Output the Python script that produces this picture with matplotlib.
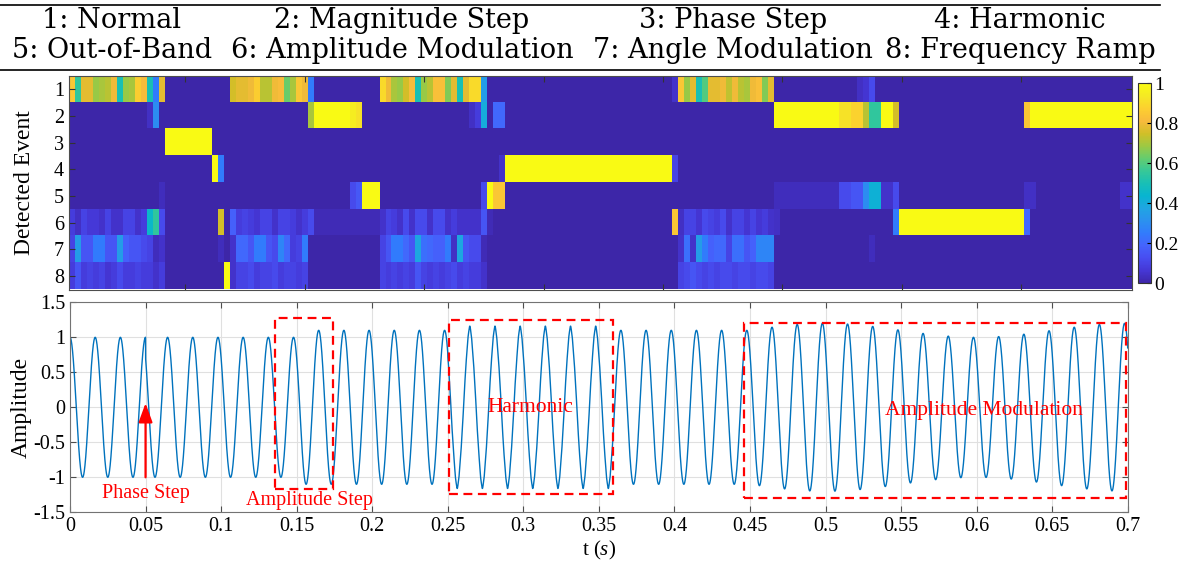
import numpy as np
import matplotlib.pyplot as plt
from matplotlib.colors import LinearSegmentedColormap
from matplotlib.patches import Rectangle
from matplotlib.lines import Line2D

plt.rcParams['font.family'] = 'Liberation Serif'
plt.rcParams['mathtext.fontset'] = 'custom'
plt.rcParams['mathtext.rm'] = 'Liberation Serif'
plt.rcParams['mathtext.it'] = 'Liberation Serif:italic'

# ---- event classes ----
event_labels = ['1: Normal', '2: Magnitude Step', '3: Phase Step', '4: Harmonic',
                '5: Out-of-Band', '6: Amplitude Modulation', '7: Angle Modulation',
                '8: Frequency Ramp']

# ---- classifier scores per window, stored as {first window: [scores]} ----
n_windows = 178
score_normal = {
    0: [0.85, 0.55, 0.78, 0.78, 0.68, 0.70, 0.72, 0.80, 0.50, 0.68, 0.70, 0.87, 0.82, 0.50, 0.25, 0.78],
    27: [0.75, 0.78, 0.78, 0.80, 0.87, 0.72, 0.72, 0.80, 0.82, 0.63, 0.70, 0.85, 0.80, 0.25],
    52: [0.90, 0.80, 0.70, 0.68, 0.75, 0.82, 0.50, 0.68, 0.72, 0.83, 0.83, 0.66, 0.78, 0.50, 0.78,
         0.90, 0.90, 0.35],
    101: [0.05, 0.85, 0.68, 0.78, 0.50, 0.60, 0.78, 0.78, 0.80, 0.73, 0.80, 0.72, 0.70, 0.80, 0.83,
          0.66, 0.78],
    132: [0.04, 0.06, 0.12],
}
score_mag_step = {
    13: [0.04, 0.30],
    40: [0.70, 1, 1, 1, 1, 1, 1, 0.95, 0.92],
    67: [0.04, 0.08, 0.40, 0.0, 0.20, 0.20],
    118: [1, 1, 1, 1, 1, 1, 1, 1, 1, 1, 1, 0.92, 0.92, 0.88, 0.88, 0.72, 0.55, 0.55, 1, 1, 0.75],
    160: [0.85] + [1] * 17,
}
score_phase_step = {
    16: [1, 1, 1, 1, 1, 1, 1, 1],
}
score_harmonic = {
    24: [1, 0.25],
    72: [0.05] + [1] * 28 + [0.10],
}
score_out_of_band = {
    15: [0.03],
    47: [0.12, 0.16, 1, 1, 1],
    69: [0.12, 1, 0.85, 0.85],
    118: [0.03] * 11 + [0.12, 0.12, 0.15, 0.15, 0.30, 0.42, 0.42, 0.05, 0.05, 0.12],
    160: [0.04, 0.04],
    176: [0.05, 0.05],
}
score_am = {
    0: [0.08, 0.04, 0.10, 0.07, 0.07, 0.05, 0.10, 0.05, 0.05, 0.10, 0.10, 0.05, 0.08, 0.45, 0.55, 0.12],
    25: [0.75],
    27: [0.18, 0.08, 0.10, 0.08, 0.06, 0.10, 0.10, 0.05, 0.10, 0.10, 0.08, 0.05, 0.08, 0.12],
    41: [0.02] * 11,
    52: [0.05, 0.10, 0.08, 0.05, 0.12, 0.05, 0.12, 0.12, 0.05, 0.12, 0.12, 0.05, 0.08, 0.05, 0.05,
         0.05, 0.05, 0.15, 0.02],
    101: [0.85, 0.04, 0.10, 0.10, 0.06, 0.12, 0.10, 0.08, 0.12, 0.05, 0.10, 0.10, 0.06, 0.10, 0.06,
          0.08, 0.05, 0.04],
    138: [0.25] + [1] * 21 + [0.20],
}
score_angle_mod = {
    0: [0.10, 0.35, 0.15, 0.15, 0.25, 0.25, 0.15, 0.15, 0.35, 0.18, 0.15, 0.15, 0.12, 0.10, 0.03, 0.05],
    25: [0.03],
    27: [0.05, 0.20, 0.20, 0.15, 0.25, 0.25, 0.15, 0.12, 0.28, 0.20, 0.08, 0.10, 0.25],
    52: [0.10, 0.15, 0.25, 0.25, 0.20, 0.15, 0.38, 0.22, 0.20, 0.18, 0.18, 0.25, 0.04, 0.38, 0.15,
         0.12, 0.12, 0.02],
    102: [0.05, 0.22, 0.05, 0.35, 0.25, 0.18, 0.20, 0.20, 0.10, 0.22, 0.22, 0.15, 0.18, 0.28, 0.28, 0.28],
    134: [0.03],
}
score_freq_ramp = {
    0: [0.08, 0.15, 0.08, 0.10, 0.08, 0.10, 0.06, 0.08, 0.12, 0.08, 0.08, 0.10, 0.08, 0.08, 0.05, 0.08],
    26: [1, 0.05, 0.10, 0.10, 0.12, 0.08, 0.10, 0.10, 0.12, 0.08, 0.10, 0.10, 0.08, 0.10],
    52: [0.10, 0.08, 0.10, 0.08, 0.10, 0.08, 0.15, 0.10, 0.08, 0.10, 0.08, 0.10, 0.12, 0.08, 0.10,
         0.08, 0.08, 0.05],
    102: [0.10, 0.12, 0.15, 0.12, 0.10, 0.12, 0.10, 0.12, 0.12, 0.10, 0.12, 0.12, 0.10, 0.12, 0.12, 0.10],
}
event_scores = [score_normal, score_mag_step, score_phase_step, score_harmonic,
                score_out_of_band, score_am, score_angle_mod, score_freq_ramp]

# ---- test waveform parameters ----
f0 = 60.0
t_end = 0.7
phase_step_t, phase_step_deg = 0.05, 45.0
amp_step_t, amp_before, amp_after = 0.152, 1.0, 1.1
harm_window = (0.25, 0.36)
harm_orders = [3, 5, 13]
harm_mags = [0.03, 0.02, 0.01]
am_start, am_depth, am_freq = 0.45, 0.10, 5.0

# annotation windows (t0, t1, y0, y1)
amp_step_box = (0.136, 0.174, -1.17, 1.27)
harm_box = (0.2505, 0.3595, -1.245, 1.25)
am_box = (0.446, 0.699, -1.29, 1.20)


def parula():
    pts = [
        (0.2422, 0.1504, 0.6603), (0.2706, 0.2147, 0.8364), (0.2813, 0.3006, 0.9414),
        (0.2699, 0.3892, 0.9906), (0.1963, 0.4847, 0.9892), (0.1687, 0.5703, 0.9359),
        (0.1248, 0.6459, 0.8883), (0.0297, 0.7082, 0.8163), (0.0964, 0.7500, 0.7120),
        (0.2161, 0.7843, 0.5923), (0.3909, 0.8029, 0.4354), (0.6174, 0.7876, 0.2612),
        (0.8203, 0.7498, 0.1535), (0.9728, 0.7298, 0.2394), (0.9892, 0.8136, 0.1885),
        (0.9597, 0.9135, 0.1423), (0.9769, 0.9839, 0.0805),
    ]
    return LinearSegmentedColormap.from_list('parula', pts, N=256)


def build_scores():
    m = np.zeros((len(event_scores), n_windows))
    for row, runs in enumerate(event_scores):
        for start, vals in runs.items():
            m[row, start:start + len(vals)] = vals
    return m


def build_signal():
    t = np.arange(0, t_end + 1e-6, 1e-5)
    theta = 2 * np.pi * f0 * t + np.deg2rad(phase_step_deg) * (t >= phase_step_t)
    amp = np.where(t < amp_step_t, amp_before, amp_after)
    amp = np.where(t >= am_start, amp_after + am_depth * np.sin(2 * np.pi * am_freq * (t - am_start)), amp)
    v = amp * np.cos(theta)
    hmask = (t >= harm_window[0]) & (t < harm_window[1])
    for k, mag in zip(harm_orders, harm_mags):
        v += hmask * mag * np.cos(k * theta)
    return t, v


W, H = 1182, 563
fig = plt.figure(figsize=(W / 100, H / 100), dpi=100)

# header table
for y in (1 - 5 / H, 1 - 70 / H):
    fig.add_artist(Line2D([0, 1160 / W], [y, y], color='black', lw=1.2, transform=fig.transFigure))
col_x = [112, 402, 733, 1020]
for i, lab in enumerate(event_labels):
    r, c = divmod(i, 4)
    fig.text(col_x[c] / W, 1 - (20 + 31 * r) / H, lab, ha='center', va='center',
             family='DejaVu Serif', fontsize=19.5)

# detection heatmap
ax1 = fig.add_axes([69 / W, 1 - 289.5 / H, (1131.5 - 69) / W, (289.5 - 76) / H])
scores = build_scores()
im = ax1.imshow(scores, cmap=parula(), vmin=0, vmax=1, aspect='auto', interpolation='nearest',
                extent=(0.5, n_windows + 0.5, len(event_scores) + 0.5, 0.5))
ax1.set_xticks(np.arange(20, n_windows, 20))
ax1.set_xticklabels([])
ax1.set_yticks(np.arange(1, 9))
ax1.tick_params(direction='in', top=True, right=True, length=4, width=0.8, color='0.2', labelsize=14.5)
ax1.set_ylabel('Detected Event', fontsize=17, labelpad=14)
for s in ax1.spines.values():
    s.set_color('0.3')
    s.set_linewidth(0.8)

cax = fig.add_axes([1137.7 / W, 1 - 283.3 / H, 13.5 / W, 200 / H])
cb = fig.colorbar(im, cax=cax, ticks=[0, 0.2, 0.4, 0.6, 0.8, 1])
cb.ax.set_yticklabels(['0', '0.2', '0.4', '0.6', '0.8', '1'])
cb.ax.tick_params(direction='in', length=3, width=0.8, labelsize=14, pad=2)
cb.outline.set_edgecolor('0.2')
cb.outline.set_linewidth(0.8)

# waveform
ax2 = fig.add_axes([70 / W, 1 - 512.3 / H, (1127.7 - 70) / W, (512.3 - 302.3) / H])
t, v = build_signal()
ax2.plot(t, v, color=(0, 0.447, 0.741), lw=1.0)
ax2.set_xlim(0, t_end)
ax2.set_ylim(-1.5, 1.5)
xt = np.round(np.arange(0, 0.7001, 0.05), 2)
ax2.set_xticks(xt)
ax2.set_xticklabels(['%g' % x for x in xt])
yt = np.arange(-1.5, 1.51, 0.5)
ax2.set_yticks(yt)
ax2.set_yticklabels([('%g' % y).replace('\u2212', '-') for y in yt])
ax2.grid(True, color='0.88', lw=0.8)
ax2.tick_params(direction='in', top=True, right=True, length=4, width=0.8, color='0.3', labelsize=14.5)
for s in ax2.spines.values():
    s.set_color('0.45')
    s.set_linewidth(0.8)
ax2.set_ylabel('Amplitude', fontsize=17, labelpad=1)
ax2.set_xlabel(r't ($s$)', fontsize=15, labelpad=2)

red = (1, 0, 0)
for (x0, x1, y0, y1) in (amp_step_box, harm_box, am_box):
    ax2.add_patch(Rectangle((x0, y0), x1 - x0, y1 - y0, fill=False, ec=red, lw=1.6,
                            ls=(0, (4, 2.5)), clip_on=False, zorder=5))
ax2.annotate('', xy=(phase_step_t, 0.06), xytext=(phase_step_t, -1.0),
             arrowprops=dict(arrowstyle='-|>,head_length=0.55,head_width=0.2', color=red,
                             lw=1.6, mutation_scale=21, shrinkA=0, shrinkB=0), zorder=6)
ax2.text(0.0505, -1.23, 'Phase Step', color=red, fontsize=14.5, ha='center', va='center')
ax2.text(0.1586, -1.335, 'Amplitude Step', color=red, fontsize=14.5, ha='center', va='center')
ax2.text(0.305, 0.0, 'Harmonic', color=red, fontsize=15.5, ha='center', va='center')
ax2.text(0.6047, -0.045, 'Amplitude Modulation', color=red, fontsize=15.5, ha='center', va='center')

fig.savefig('out.png', dpi=100)
